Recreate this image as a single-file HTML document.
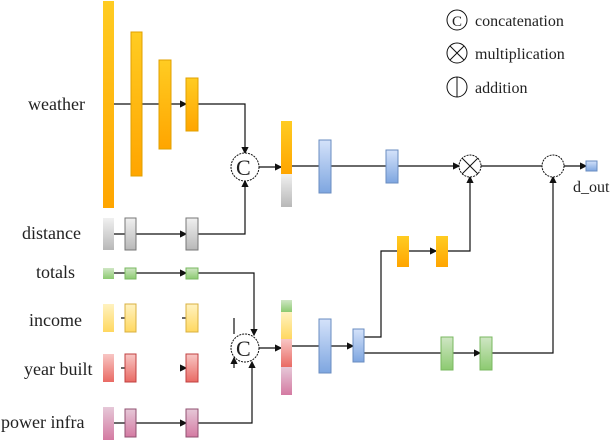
<!DOCTYPE html>
<html><head><style>body{margin:0;background:#fff}svg{display:block}text{font-family:"Liberation Serif",serif;fill:#222}</style></head><body>
<svg width="612" height="440" viewBox="0 0 612 440" xmlns="http://www.w3.org/2000/svg">
<defs>
<linearGradient id="o" x1="0" y1="0" x2="0" y2="1"><stop offset="0" stop-color="#ffcc22"/><stop offset="1" stop-color="#ffa500"/></linearGradient>
<linearGradient id="g" x1="0" y1="0" x2="0" y2="1"><stop offset="0" stop-color="#f0f0f0"/><stop offset="1" stop-color="#b8b8b8"/></linearGradient>
<linearGradient id="gr" x1="0" y1="0" x2="0" y2="1"><stop offset="0" stop-color="#cfe6c4"/><stop offset="1" stop-color="#8cca70"/></linearGradient>
<linearGradient id="y" x1="0" y1="0" x2="0" y2="1"><stop offset="0" stop-color="#fff2c0"/><stop offset="1" stop-color="#ffd860"/></linearGradient>
<linearGradient id="r" x1="0" y1="0" x2="0" y2="1"><stop offset="0" stop-color="#f8c6c4"/><stop offset="1" stop-color="#e96a64"/></linearGradient>
<linearGradient id="p" x1="0" y1="0" x2="0" y2="1"><stop offset="0" stop-color="#e6c8d8"/><stop offset="1" stop-color="#d47aa2"/></linearGradient>
<linearGradient id="b" x1="0" y1="0" x2="0" y2="1"><stop offset="0" stop-color="#d4e2fa"/><stop offset="1" stop-color="#7ea6e0"/></linearGradient>
<marker id="a" markerWidth="6" markerHeight="6" refX="5" refY="3" orient="auto"><path d="M0,0L6,3L0,6z" fill="#111"/></marker>
</defs>
<g font-size="18">
<text x="28" y="110">weather</text><text x="22" y="239">distance</text><text x="36" y="278">totals</text>
<text x="29" y="326">income</text><text x="24" y="375">year built</text><text x="1" y="428">power infra</text>
</g>
<g font-size="16"><text x="475" y="26">concatenation</text><text x="475" y="59">multiplication</text><text x="475" y="93">addition</text><text x="573" y="192">d_out</text></g>
<g fill="none" stroke="#111" stroke-width="1">
<circle cx="457" cy="20" r="10"/><text x="452" y="26" font-size="15" stroke="none">C</text>
<circle cx="457" cy="53" r="10"/><path d="M450,46L464,60M464,46L450,60"/>
<circle cx="457" cy="87" r="10"/><path d="M457,77V97"/>
</g>
<g stroke="#111" stroke-width="1.2" fill="none">
<path d="M114,104H131M142,104H159M171,104H186" marker-end="url(#a)"/>
<path d="M198,104H245V153" marker-end="url(#a)"/>
<path d="M114,234H125M136,234H186" marker-end="url(#a)"/>
<path d="M198,234H245V181" marker-end="url(#a)"/>
<path d="M259,167H281" marker-end="url(#a)"/>
<path d="M292,166H319M331,166H386M398,166H459" marker-end="url(#a)"/>
<path d="M481,166H542M564,166H586" marker-end="url(#a)"/>
<path d="M114,273H125M136,273H186" marker-end="url(#a)"/>
<path d="M198,273H254V335" marker-end="url(#a)"/>
<path d="M114,423H125M136,423H186" marker-end="url(#a)"/>
<path d="M198,423H252V362" marker-end="url(#a)"/>
<path d="M234,318V334M234,368V358" marker-end="url(#a)"/>
<path d="M121,318H125M182,318H186M121,368H125M182,368H186" marker-end="url(#a)"/>
<path d="M259,348H281" marker-end="url(#a)"/>
<path d="M292,346H319M331,346H353" marker-end="url(#a)"/>
<path d="M364,337H381V251H397M409,251H436" marker-end="url(#a)"/>
<path d="M448,251H470V177" marker-end="url(#a)"/>
<path d="M364,353H441M453,353H480" marker-end="url(#a)"/>
<path d="M492,353H553V177" marker-end="url(#a)"/>
</g>
<g stroke="#111" fill="#fff" stroke-dasharray="2,1">
<circle cx="245" cy="167" r="14"/><circle cx="245" cy="348" r="14"/>
<circle cx="470" cy="166" r="11"/><circle cx="553" cy="166" r="11"/>
</g>
<path d="M462,158L478,174M478,158L462,174" stroke="#111"/>
<text x="236" y="175" font-size="22">C</text><text x="236" y="356" font-size="22">C</text>
<g stroke-width="1">
<rect x="103" y="1" width="11" height="207" fill="url(#o)"/>
<rect x="131" y="32" width="11" height="144" fill="url(#o)" stroke="#e0a000"/>
<rect x="159" y="60" width="12" height="89" fill="url(#o)" stroke="#e0a000"/>
<rect x="186" y="78" width="12" height="53" fill="url(#o)" stroke="#e0a000"/>
<rect x="103" y="218" width="11" height="32" fill="url(#g)"/>
<rect x="125" y="218" width="11" height="32" fill="url(#g)" stroke="#777"/>
<rect x="186" y="218" width="12" height="32" fill="url(#g)" stroke="#777"/>
<rect x="281" y="121" width="11" height="53" fill="url(#o)"/>
<rect x="281" y="174" width="11" height="33" fill="url(#g)"/>
<rect x="103" y="268" width="11" height="11" fill="url(#gr)"/>
<rect x="125" y="268" width="11" height="11" fill="url(#gr)" stroke="#7ab860"/>
<rect x="186" y="268" width="12" height="11" fill="url(#gr)" stroke="#7ab860"/>
<rect x="103" y="304" width="11" height="28" fill="url(#y)"/>
<rect x="125" y="304" width="11" height="28" fill="url(#y)" stroke="#d8b040"/>
<rect x="186" y="304" width="12" height="28" fill="url(#y)" stroke="#d8b040"/>
<rect x="103" y="354" width="11" height="28" fill="url(#r)"/>
<rect x="125" y="354" width="11" height="28" fill="url(#r)" stroke="#c04040"/>
<rect x="186" y="354" width="12" height="28" fill="url(#r)" stroke="#c04040"/>
<rect x="103" y="407" width="11" height="33" fill="url(#p)"/>
<rect x="125" y="409" width="11" height="28" fill="url(#p)" stroke="#905070"/>
<rect x="186" y="409" width="12" height="28" fill="url(#p)" stroke="#905070"/>
<rect x="281" y="300" width="11" height="12" fill="url(#gr)"/>
<rect x="281" y="312" width="11" height="27" fill="url(#y)"/>
<rect x="281" y="339" width="11" height="28" fill="url(#r)"/>
<rect x="281" y="367" width="11" height="28" fill="url(#p)"/>
<rect x="319" y="140" width="12" height="53" fill="url(#b)" stroke="#6a8cc0"/>
<rect x="386" y="150" width="12" height="33" fill="url(#b)" stroke="#6a8cc0"/>
<rect x="586" y="161" width="11" height="10" fill="url(#b)" stroke="#6a8cc0"/>
<rect x="319" y="319" width="12" height="54" fill="url(#b)" stroke="#6a8cc0"/>
<rect x="353" y="329" width="11" height="33" fill="url(#b)" stroke="#6a8cc0"/>
<rect x="397" y="236" width="12" height="31" fill="url(#o)"/>
<rect x="436" y="236" width="12" height="31" fill="url(#o)"/>
<rect x="441" y="337" width="12" height="33" fill="url(#gr)" stroke="#7ab860"/>
<rect x="480" y="337" width="12" height="33" fill="url(#gr)" stroke="#7ab860"/>
</g>
</svg>
</body></html>
